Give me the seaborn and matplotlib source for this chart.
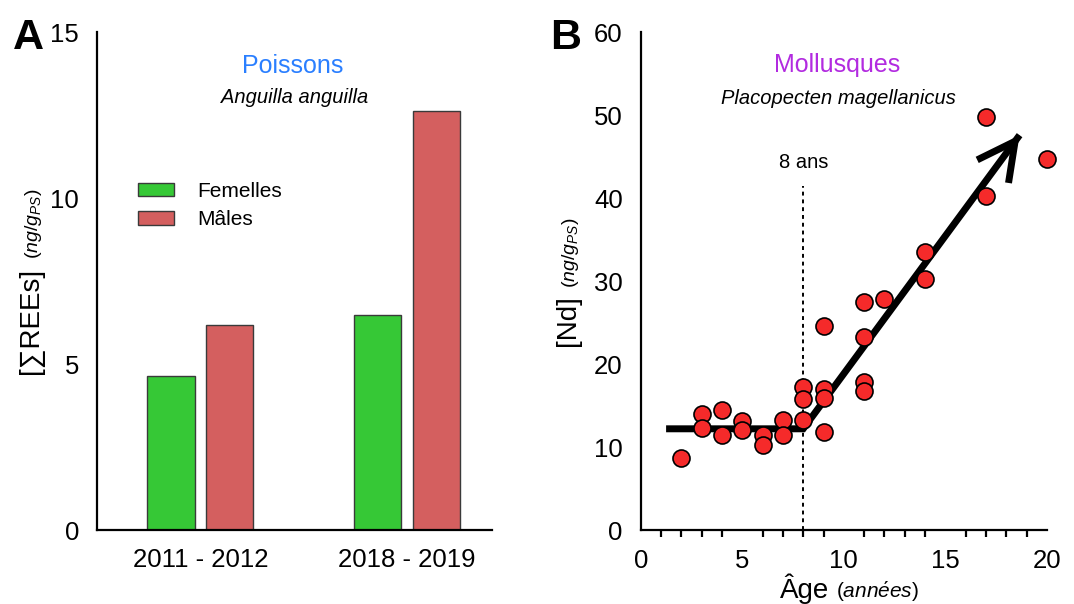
import matplotlib
matplotlib.use("Agg")
import matplotlib.pyplot as plt
from matplotlib.ticker import MultipleLocator
import numpy as np
import pandas as pd
import seaborn as sns

# --- Panel A: rare earth elements in eels ---
periods = ["2011 - 2012", "2018 - 2019"]
sexes = ["Femelles", "Mâles"]
rees_femelles = [4.65, 6.47]
rees_males = [6.18, 12.62]

# --- Panel B: Nd in scallops vs age ---
age = [2, 3, 3, 4, 4, 5, 5, 6, 6, 7, 7, 8, 8, 8,
       9, 9, 9, 9, 11, 11, 11, 11, 12, 14, 14, 17, 17, 20]
nd = [8.7, 14.0, 12.3, 14.5, 11.5, 13.2, 12.0, 11.4, 10.2, 13.3, 11.5, 17.2, 15.8, 13.3,
      24.6, 17.0, 15.9, 11.8, 27.5, 23.3, 17.8, 16.8, 27.8, 33.5, 30.2, 49.8, 40.3, 44.7]
# broken-line trend: plateau then linear increase after 8 years
trend_x = [1.25, 8.0, 18.65]
trend_y = [12.2, 12.2, 47.6]
breakpoint_age = 8

sns.set_theme(style="white")
plt.rcParams["font.family"] = ["Liberation Sans", "DejaVu Sans"]
plt.rcParams["mathtext.fontset"] = "custom"
plt.rcParams["mathtext.rm"] = "Liberation Sans"
plt.rcParams["mathtext.it"] = "Liberation Sans:italic"
for key in ("text.color", "axes.labelcolor", "xtick.color", "ytick.color"):
    plt.rcParams[key] = "black"

W, H = 1074, 604
fig = plt.figure(figsize=(W / 100, H / 100), dpi=100)


def px_axes(x0, x1, ytop, ybot):
    return fig.add_axes([x0 / W, 1 - ybot / H, (x1 - x0) / W, (ybot - ytop) / H])


def px_text(x, y, s, **kw):
    return fig.text(x / W, 1 - y / H, s, **kw)


axA = px_axes(97, 492, 32.3, 530)
axB = px_axes(640.7, 1047, 32.3, 530)

for ax in (axA, axB):
    for s in ("top", "right"):
        ax.spines[s].set_visible(False)
    for s in ("left", "bottom"):
        ax.spines[s].set_linewidth(1.6)
        ax.spines[s].set_color("black")
    ax.tick_params(axis="both", which="major", direction="out", length=7, width=1.6,
                   color="black", labelsize=18.5, labelcolor="black")

# ---------- Panel A ----------
df = pd.DataFrame({
    "periode": periods * 2,
    "sexe": [sexes[0]] * 2 + [sexes[1]] * 2,
    "rees": rees_femelles + rees_males,
})
sns.barplot(data=df, x="periode", y="rees", hue="sexe", order=periods, hue_order=sexes,
            palette=["#36C836", "#D45F5F"], saturation=1, width=0.57, gap=0.2,
            edgecolor="#3a3a3a", linewidth=1.0, ax=axA, errorbar=None)
axA.set_xlim(-0.5, 1.41)
axA.set_ylim(0, 15)
axA.set_yticks([0, 5, 10, 15])
axA.tick_params(axis="x", length=0, pad=13)
axA.tick_params(axis="y", pad=6)
axA.set_xlabel("")
axA.set_ylabel("")
leg = axA.legend(loc="center left", bbox_to_anchor=(0.105, 0.652), frameon=False,
                 fontsize=15, handlelength=1.7, handleheight=0.65, handletextpad=1.1,
                 labelspacing=0.45, borderaxespad=0, borderpad=0)
for p in leg.get_patches():
    p.set_edgecolor("#3a3a3a")

axA.text(0.496, 0.932, "Poissons", transform=axA.transAxes, ha="center", va="center",
         fontsize=18, color="#2A7FFF")
axA.text(0.50, 0.868, "Anguilla anguilla", transform=axA.transAxes, ha="center",
         va="center", fontsize=14.5, style="italic")

px_text(37.5, 321, "[∑REEs]", rotation=90, rotation_mode="anchor", ha="center",
        va="baseline", fontsize=20)
px_text(37.5, 224, r"$\it{(ng/g_{PS})}$", rotation=90, rotation_mode="anchor", ha="center",
        va="baseline", fontsize=14)
px_text(28, 38, "A", ha="center", va="center", fontsize=31, fontweight="bold")

# ---------- Panel B ----------
axB.set_xlim(0, 20)
axB.set_ylim(0, 60)
axB.set_xticks([0, 5, 10, 15, 20])
axB.set_yticks([0, 10, 20, 30, 40, 50, 60])
axB.xaxis.set_minor_locator(MultipleLocator(1))
axB.tick_params(axis="x", which="minor", direction="out", length=5, width=1.6, color="black",
                bottom=True)
axB.tick_params(axis="x", which="major", length=8, pad=6)
axB.tick_params(axis="y", pad=6)

axB.plot([breakpoint_age, breakpoint_age], [0, 41.5], color="black", lw=1.4,
         ls=(0, (2, 2)), zorder=1)
axB.text(breakpoint_age, 44.3, "8 ans", ha="center", va="center", fontsize=14.5)

axB.plot(trend_x, trend_y, color="black", lw=5, solid_capstyle="butt",
         solid_joinstyle="miter", zorder=2)
axB.annotate("", xy=(trend_x[2], trend_y[2]), xytext=(trend_x[2] - 0.4, trend_y[2] - 1.33),
             arrowprops=dict(arrowstyle="->,head_length=1.35,head_width=0.7", lw=5,
                             color="black", mutation_scale=20, shrinkA=0, shrinkB=0,
                             joinstyle="miter", capstyle="butt"), zorder=2)

sns.scatterplot(x=age, y=nd, ax=axB, s=150, color="#F52A2A", edgecolor="black",
                linewidth=1.2, zorder=3, clip_on=False, legend=False)
axB.set_xlabel("")
axB.set_ylabel("")

axB.text(0.484, 0.934, "Mollusques", transform=axB.transAxes, ha="center", va="center",
         fontsize=18, color="#B22BE0")
axB.text(0.487, 0.867, "Placopecten magellanicus", transform=axB.transAxes, ha="center",
         va="center", fontsize=14.5, style="italic")

px_text(575, 321, "[Nd]", rotation=90, rotation_mode="anchor", ha="center",
        va="baseline", fontsize=20)
px_text(575, 253, r"$\it{(ng/g_{PS})}$", rotation=90, rotation_mode="anchor", ha="center",
        va="baseline", fontsize=14)
px_text(805, 598, "Âge", ha="center", va="baseline", fontsize=20)
px_text(878, 598, r"$\it{(ann\acute{e}es)}$", ha="center", va="baseline", fontsize=15)
px_text(566, 38, "B", ha="center", va="center", fontsize=31, fontweight="bold")

fig.savefig("out.png", dpi=100)
